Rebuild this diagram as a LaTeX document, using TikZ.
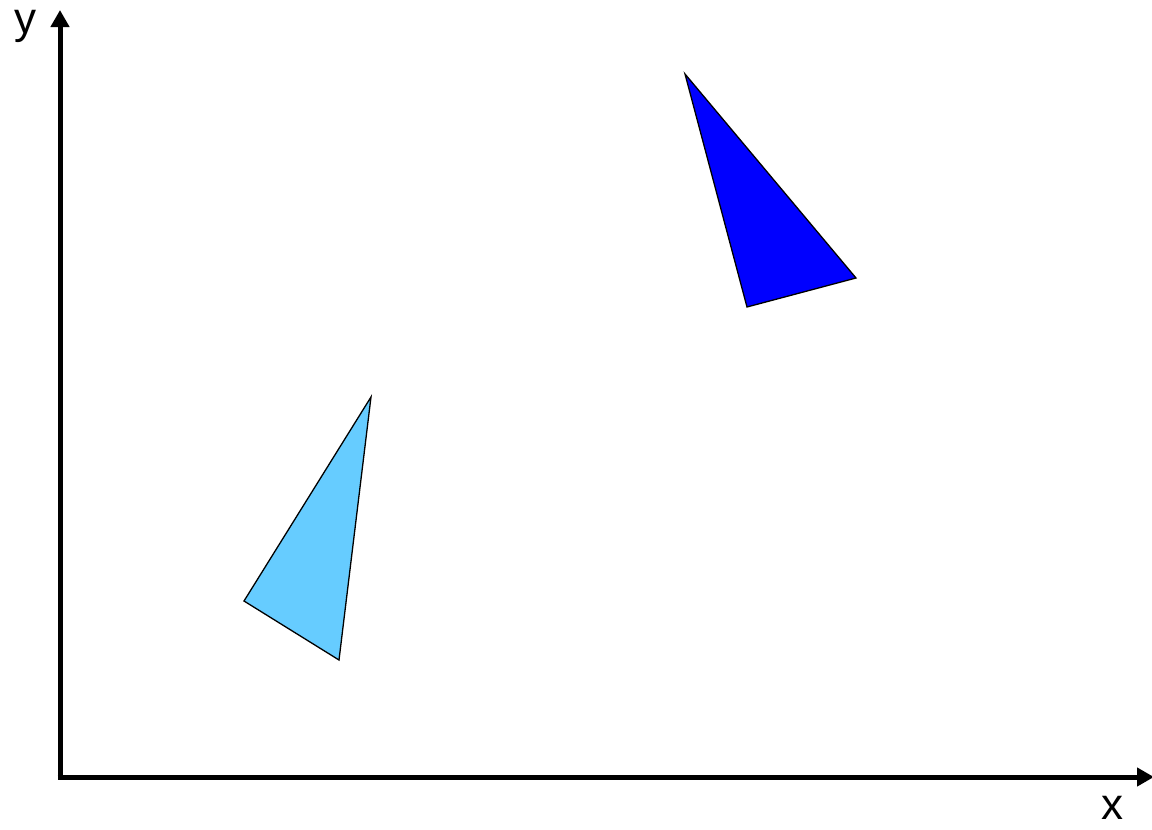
\documentclass[tikz,border=0pt]{standalone}
\usepackage{fontspec}
\setmainfont{Liberation Sans}
\usetikzlibrary{arrows.meta}
\definecolor{TriLight}{HTML}{66CCFF}
\definecolor{TriDark}{HTML}{0000FF}
\begin{document}
\begin{tikzpicture}[x=1pt,y=-1pt,
  axis/.style={line width=5pt,-{Triangle[width=18pt,length=17pt]}},
  tri/.style={draw=black,line width=1.3pt,line join=miter},
  lab/.style={font=\fontsize{44}{44}\selectfont,inner sep=0pt}]
  \useasboundingbox (0,0) rectangle (1152,830);
  \coordinate (O) at (60,777);
  \coordinate (Ytip) at (60,10);
  \coordinate (Xtip) at (1154,777);
  \draw[axis] (60,779.5) -- (Ytip);
  \draw[axis] (57.5,777) -- (Xtip);
  \node[lab] (ylab) at (26,26) {y};
  \node[lab] (xlab) at (1112,808) {x};
  % light triangle
  \draw[tri,fill=TriLight] (371,397) -- (244,601) -- (339,660) -- cycle;
  % dark triangle
  \draw[tri,fill=TriDark] (685,74) -- (856,278) -- (747,307) -- cycle;
\end{tikzpicture}
\end{document}
